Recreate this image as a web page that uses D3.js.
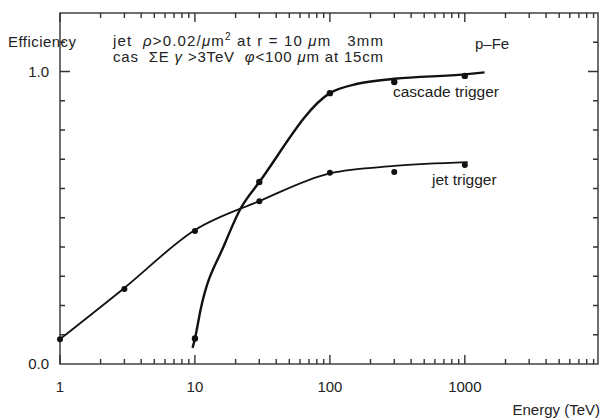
<!DOCTYPE html>
<html>
<head>
<meta charset="utf-8">
<script src="https://cdn.jsdelivr.net/npm/d3@7"></script>
<style>
  body { margin: 0; background: #fff; }
  svg { display: block; }
  text { font-family: "Liberation Sans", Arial, sans-serif; fill: #222; }
</style>
</head>
<body>
<div id="chart"></div>
<script>
// measured points
const jetEnergy = [1, 3, 10, 30, 100, 300, 1000];
const jetEff = [0.085, 0.256, 0.455, 0.556, 0.654, 0.656, 0.68];
const casEnergy = [10, 30, 100, 300, 1000];
const casEff = [0.087, 0.622, 0.926, 0.964, 0.985];

// hand-drawn guide curves
const jetCurveE = [1, 3, 10, 30, 100, 300, 1050];
const jetCurveEff = [0.085, 0.26, 0.458, 0.557, 0.652, 0.677, 0.69];
const casCurveE = [9.6, 10, 11, 16.6, 21.7, 30, 100, 160, 300, 1000, 1400];
const casCurveEff = [0.055, 0.087, 0.185, 0.41, 0.53, 0.622, 0.926, 0.958, 0.975, 0.99, 0.997];

const xMajor = [1, 10, 100, 1000];
const xMinor = [2, 3, 4, 5, 6, 7, 8, 9, 20, 30, 40, 50, 60, 70, 80, 90,
  200, 300, 400, 500, 600, 700, 800, 900, 2000, 3000, 4000, 5000, 6000, 7000, 8000, 9000];
const yMinor = [0.1, 0.2, 0.3, 0.4, 0.5, 0.6, 0.7, 0.8, 0.9, 1.1];
const yMajor = [1.0];
const yLabels = [0.0, 1.0];

const width = 603, height = 420;
const svg = d3.select('#chart').append('svg')
  .attr('width', width)
  .attr('height', height);

const x = d3.scaleLog().domain([1, 9700]).range([60, 598]);
const y = d3.scaleLinear().domain([0, 1.2]).range([364, 13]);

const axisColor = '#333';
const [plotLeft, plotRight] = x.range();
const [plotBottom, plotTop] = y.range();

// frame
svg.append('rect')
  .attr('x', plotLeft).attr('y', plotTop)
  .attr('width', plotRight - plotLeft)
  .attr('height', plotBottom - plotTop)
  .attr('fill', 'none')
  .attr('stroke', axisColor)
  .attr('stroke-width', 1.4);

// inward ticks on all four sides
const tickPath = [];
xMinor.forEach(v => {
  tickPath.push(`M${x(v).toFixed(1)},${plotBottom}V${plotBottom - 5}`);
  tickPath.push(`M${x(v).toFixed(1)},${plotTop}V${plotTop + 5}`);
});
xMajor.forEach(v => {
  tickPath.push(`M${x(v).toFixed(1)},${plotBottom}V${plotBottom - 9}`);
  tickPath.push(`M${x(v).toFixed(1)},${plotTop}V${plotTop + 9}`);
});
yMinor.forEach(v => {
  tickPath.push(`M${plotLeft},${y(v).toFixed(1)}h5`, `M${plotRight},${y(v).toFixed(1)}h-5`);
});
yMajor.forEach(v => {
  tickPath.push(`M${plotLeft},${y(v).toFixed(1)}h10`, `M${plotRight},${y(v).toFixed(1)}h-10`);
});
svg.append('path')
  .attr('d', tickPath.join(''))
  .attr('fill', 'none')
  .attr('stroke', axisColor)
  .attr('stroke-width', 1.4);

// tick labels
svg.selectAll('.xlab').data(xMajor).enter().append('text')
  .attr('x', d => x(d))
  .attr('y', 392)
  .attr('text-anchor', 'middle')
  .attr('font-size', 15)
  .text(d => d);

svg.selectAll('.ylab').data(yLabels).enter().append('text')
  .attr('x', 49)
  .attr('y', d => y(d) + 5)
  .attr('text-anchor', 'end')
  .attr('font-size', 15)
  .text(d => d.toFixed(1));

// curves
const line = d3.line()
  .x(d => x(d[0]))
  .y(d => y(d[1]))
  .curve(d3.curveMonotoneX);

svg.append('path')
  .datum(d3.zip(jetCurveE, jetCurveEff))
  .attr('d', line)
  .attr('fill', 'none')
  .attr('stroke', '#111')
  .attr('stroke-width', 1.8);

svg.append('path')
  .datum(d3.zip(casCurveE, casCurveEff))
  .attr('d', line)
  .attr('fill', 'none')
  .attr('stroke', '#111')
  .attr('stroke-width', 2.4);

// points
svg.selectAll('.jet').data(d3.zip(jetEnergy, jetEff)).enter().append('circle')
  .attr('cx', d => x(d[0])).attr('cy', d => y(d[1]))
  .attr('r', 3).attr('fill', '#111');
svg.selectAll('.cas').data(d3.zip(casEnergy, casEff)).enter().append('circle')
  .attr('cx', d => x(d[0])).attr('cy', d => y(d[1]))
  .attr('r', 3.2).attr('fill', '#111');

// annotations
svg.append('text').attr('x', 8).attr('y', 47).attr('font-size', 15)
  .attr('textLength', 68).attr('lengthAdjust', 'spacing').text('Efficiency');

const t1 = svg.append('text').attr('x', 113).attr('y', 46).attr('font-size', 15)
  .attr('xml:space', 'preserve')
  .attr('textLength', 270).attr('lengthAdjust', 'spacing');
t1.append('tspan').text('jet  ');
t1.append('tspan').attr('font-style', 'italic').text('ρ');
t1.append('tspan').text('>0.02/');
t1.append('tspan').attr('font-style', 'italic').text('μ');
t1.append('tspan').text('m');
t1.append('tspan').attr('font-size', 10).attr('dy', -6).text('2');
t1.append('tspan').attr('dy', 6).text(' at r = 10 ');
t1.append('tspan').attr('font-style', 'italic').text('μ');
t1.append('tspan').text('m   3mm');

const t2 = svg.append('text').attr('x', 113).attr('y', 62).attr('font-size', 15)
  .attr('xml:space', 'preserve')
  .attr('textLength', 270).attr('lengthAdjust', 'spacing');
t2.append('tspan').text('cas  ΣE');
t2.append('tspan').attr('font-style', 'italic').text(' γ');
t2.append('tspan').text(' >3TeV  ');
t2.append('tspan').attr('font-style', 'italic').text('φ');
t2.append('tspan').text('<100 ');
t2.append('tspan').attr('font-style', 'italic').text('μ');
t2.append('tspan').text('m at 15cm');

svg.append('text').attr('x', 475).attr('y', 49).attr('font-size', 15).text('p–Fe');
svg.append('text').attr('x', 393).attr('y', 97).attr('font-size', 15.5).text('cascade trigger');
svg.append('text').attr('x', 432).attr('y', 185).attr('font-size', 15.5).text('jet trigger');
svg.append('text').attr('x', 600).attr('y', 415).attr('text-anchor', 'end').attr('font-size', 15).text('Energy (TeV)');
</script>
</body>
</html>
